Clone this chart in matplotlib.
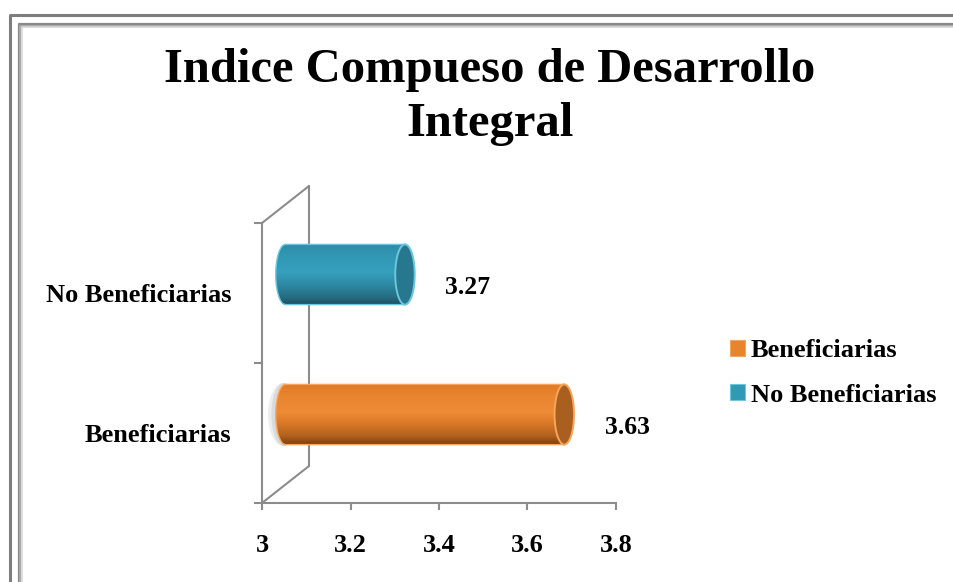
import numpy as np
import matplotlib.pyplot as plt
import matplotlib.transforms as mtransforms
from matplotlib.patches import Ellipse, Patch
from matplotlib.lines import Line2D
from matplotlib.colors import to_rgb

# data
categories = ['Beneficiarias', 'No Beneficiarias']
values = [3.63, 3.27]
value_labels = ['3.63', '3.27']
xticks = [3, 3.2, 3.4, 3.6, 3.8]
xtick_labels = ['3', '3.2', '3.4', '3.6', '3.8']
title = 'Indice Compueso de Desarrollo\nIntegral'

# cylinder shading: stops from bottom (0) to top (1)
stops = [0, 0.15, 0.35, 0.55, 0.8, 1]
shades = {
    'Beneficiarias': ['#7a3c0c', '#b0601e', '#d87726', '#ee8b37', '#e9842f', '#e07a26'],
    'No Beneficiarias': ['#1d4f60', '#266f85', '#2d8aa5', '#35a0bd', '#3198b4', '#2d8dab'],
}
inner = {'Beneficiarias': '#a85f1f', 'No Beneficiarias': '#27788f'}
edge = {'Beneficiarias': '#f6a65c', 'No Beneficiarias': '#6cc6de'}
legend_col = {'Beneficiarias': '#e8832e', 'No Beneficiarias': '#3199b5'}

plt.rcParams['font.family'] = ['Liberation Serif', 'DejaVu Serif']
plt.rcParams['font.weight'] = 'bold'

W, H = 954, 582
fig = plt.figure(figsize=(W / 100, H / 100), dpi=100)

# double grey frame around the chart area
def px(x):
    return x / W

def py(y):
    return 1 - y / H

for off, col, lw in [(10, '#7d7d7d', 2.2), (19, '#8a8a8a', 1.6), (20.5, '#a8a8a8', 1.4), (22, '#d6d6d6', 1.2)]:
    fig.add_artist(Line2D([px(off), px(off), 1.0], [0.0, py(off + 5), py(off + 5)],
                          transform=fig.transFigure, color=col, lw=lw))

ax = fig.add_axes([262 / W, 1 - 503 / H, 354 / W, 280 / H])
ax.set_xlim(3, 3.8)
ax.set_ylim(0, 2)
ax.patch.set_alpha(0)

depth = mtransforms.ScaledTranslation(0.47, 0.37, fig.dpi_scale_trans)
half = mtransforms.ScaledTranslation(0.235, 0.185, fig.dpi_scale_trans)
back_tr = ax.transData + depth
bar_tr = ax.transData + half

wall = '#8c8c8c'
# back wall and side edges
ax.plot([3, 3], [0, 2], transform=back_tr, color=wall, lw=1.5, clip_on=False, zorder=1)
for yy in [0, 2]:
    ax.annotate('', xy=(3, yy), xycoords=back_tr, xytext=(3, yy), textcoords='data', zorder=1,
                arrowprops=dict(arrowstyle='-', color=wall, lw=1.5, shrinkA=0, shrinkB=0))

# axes lines and ticks
for s in ['top', 'right']:
    ax.spines[s].set_visible(False)
for s in ['left', 'bottom']:
    ax.spines[s].set_color(wall)
    ax.spines[s].set_linewidth(1.5)

ax.set_xticks(xticks)
ax.set_xticklabels(xtick_labels)
ax.set_yticks([0, 1, 2])
ax.set_yticklabels([])
ax.set_yticks([0.5, 1.5], minor=True)
ax.set_yticklabels(categories, minor=True)
ax.tick_params(axis='x', color=wall, width=1.5, length=5, labelsize=19, pad=17)
ax.tick_params(axis='y', which='major', color=wall, width=1.5, length=6)
ax.tick_params(axis='y', which='minor', length=0, labelsize=19, pad=22)

# cylinder bars
ew = 0.044   # cap width in value units
h = 0.43     # bar thickness in category units
n = 60
for i, (cat, val) in enumerate(zip(categories, values)):
    yc = i + 0.5
    rgb = np.array([to_rgb(c) for c in shades[cat]])
    ys = yc - h / 2 + (np.arange(n) + 0.5) * h / n
    t = (ys - (yc - h / 2)) / h
    cols = np.column_stack([np.interp(t, stops, rgb[:, k]) for k in range(3)])
    rel = np.clip((ys - yc) / (h / 2), -1, 1)
    x_left = 3 - ew / 2 * np.sqrt(1 - rel ** 2)

    if i == 0:
        for a, w in [(0.10, 1.6), (0.12, 1.25)]:
            ax.add_patch(Ellipse((3 - ew * 0.1, yc), ew * w, h * 1.05, transform=bar_tr,
                                 color='#555555', alpha=a, lw=0, clip_on=False, zorder=2))

    ax.barh(ys, val - x_left, height=h / n * 1.4, left=x_left, color=cols, lw=0,
            transform=bar_tr, clip_on=False, zorder=3)

    # outline of the body
    yy = np.linspace(yc - h / 2, yc + h / 2, 80)
    rr = (yy - yc) / (h / 2)
    xx = 3 - ew / 2 * np.sqrt(np.clip(1 - rr ** 2, 0, 1))
    ox = np.concatenate([[val], xx, [val]])
    oy = np.concatenate([[yc - h / 2], yy, [yc + h / 2]])
    ax.plot(ox, oy, color=edge[cat], lw=1, transform=bar_tr, clip_on=False, zorder=4)

    ax.add_patch(Ellipse((val, yc), ew, h, transform=bar_tr, facecolor=inner[cat],
                         edgecolor=edge[cat], lw=1.4, clip_on=False, zorder=5))

    ax.annotate(value_labels[i], xy=(val, i + 0.5), xytext=(46, 4), textcoords='offset points',
                ha='left', va='center', fontsize=18.5, fontweight='bold', color='black')

# title
fig.text(490 / W, 1 - 48 / H, title, ha='center', va='top', fontsize=35,
         fontweight='bold', linespacing=1.3)

# legend
handles = [Patch(facecolor=legend_col[c], edgecolor=edge[c], lw=0.8) for c in categories]
fig.legend(handles, categories, loc='center left', bbox_to_anchor=(730 / W, 1 - 373 / H),
           frameon=False, fontsize=19, handlelength=0.55, handleheight=0.55,
           handletextpad=0.25, labelspacing=0.8, borderpad=0, borderaxespad=0)

fig.savefig('out.png', dpi=100)
